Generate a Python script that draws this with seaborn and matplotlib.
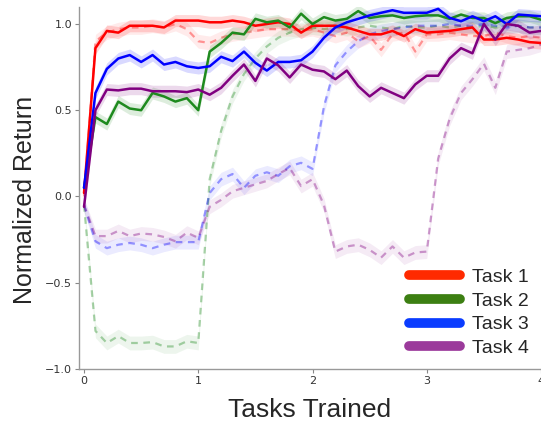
import numpy as np
import pandas as pd
import matplotlib
matplotlib.use("Agg")
import matplotlib.pyplot as plt
from matplotlib.lines import Line2D
import seaborn as sns

steps = [round(i * 0.1, 1) for i in range(41)]

red_solid = [0.02, 0.86, 0.96, 0.95, 0.99, 0.99, 0.99, 0.98, 1.02, 1.02, 1.02,
             1.01, 1.01, 1.02, 1.01, 0.99, 1.00, 1.01, 1.00, 0.95, 0.99,
             0.99, 0.99, 0.98, 0.96, 0.94, 0.94, 0.96, 0.93, 0.97, 0.95,
             0.955, 0.96, 0.97, 0.98, 0.91, 0.91, 0.92, 0.91, 0.895, 0.89]
red_dash = [0.00, 0.90, 0.95, 0.97, 0.98, 0.98, 0.99, 0.98, 1.00, 0.97, 0.90,
            0.89, 0.92, 0.94, 0.95, 0.96, 0.97, 0.97, 0.97, 0.96, 0.97,
            0.95, 0.93, 0.95, 0.90, 0.93, 0.85, 0.94, 0.95, 0.84, 0.94,
            0.94, 0.95, 0.94, 0.93, 0.93, 0.95, 0.93, 0.92, 0.93, 0.92]
green_solid = [0.05, 0.46, 0.42, 0.55, 0.51, 0.50, 0.60, 0.58, 0.55, 0.57, 0.50,
               0.84, 0.89, 0.95, 0.94, 1.03, 1.01, 1.02, 0.98, 1.06, 1.00,
               1.04, 1.02, 1.03, 1.075, 1.035, 1.045, 1.05, 1.035, 1.045, 1.05,
               1.05, 1.03, 1.055, 1.035, 1.035, 1.005, 1.035, 1.045, 1.045, 1.025]
green_dash = [-0.05, -0.78, -0.85, -0.81, -0.85, -0.85, -0.845, -0.87, -0.87, -0.84, -0.85,
              0.10, 0.38, 0.58, 0.71, 0.80, 0.87, 0.92, 0.95, 0.97, 0.98,
              0.97, 0.98, 0.97, 0.98, 0.99, 0.98, 0.97, 0.99, 0.98, 0.98,
              0.99, 0.98, 0.99, 0.98, 0.99, 0.98, 0.99, 0.99, 0.98, 0.98]
blue_solid = [0.05, 0.60, 0.74, 0.80, 0.82, 0.78, 0.82, 0.765, 0.78, 0.755, 0.745,
              0.755, 0.81, 0.785, 0.84, 0.775, 0.73, 0.78, 0.78, 0.79, 0.84,
              0.92, 0.98, 1.01, 1.03, 1.05, 1.065, 1.08, 1.065, 1.065, 1.065,
              1.088, 1.036, 1.016, 1.045, 1.016, 1.045, 1.00, 1.055, 1.05, 1.045]
blue_dash = [-0.05, -0.26, -0.30, -0.28, -0.27, -0.28, -0.30, -0.28, -0.265, -0.265, -0.265,
             0.02, 0.10, 0.13, 0.05, 0.12, 0.14, 0.12, 0.175, 0.195, 0.16,
             0.52, 0.76, 0.84, 0.90, 0.94, 0.96, 0.97, 0.98, 0.99, 0.99,
             0.99, 1.00, 0.99, 0.99, 1.00, 0.99, 0.98, 0.99, 0.98, 0.98]
purple_solid = [-0.06, 0.50, 0.62, 0.615, 0.625, 0.625, 0.61, 0.61, 0.61, 0.605, 0.62,
                0.59, 0.63, 0.70, 0.765, 0.67, 0.80, 0.76, 0.69, 0.765, 0.735,
                0.725, 0.68, 0.73, 0.64, 0.58, 0.63, 0.60, 0.57, 0.65, 0.70,
                0.70, 0.80, 0.86, 0.83, 1.00, 0.91, 1.00, 0.99, 0.95, 0.96]
purple_dash = [-0.05, -0.23, -0.23, -0.20, -0.23, -0.215, -0.22, -0.235, -0.26, -0.21, -0.24,
               -0.06, -0.02, 0.03, 0.05, 0.07, 0.09, 0.13, 0.165, 0.06, 0.10,
               -0.05, -0.32, -0.29, -0.28, -0.31, -0.355, -0.29, -0.355, -0.325, -0.32,
               0.22, 0.45, 0.60, 0.68, 0.77, 0.63, 0.84, 0.85, 0.86, 0.88]

err_solid = 0.035
err_dash = 0.04

task_labels = ["Task 1", "Task 2", "Task 3", "Task 4"]
line_colors = ["#ff0000", "#1e8a1e", "#0000ff", "#800080"]
legend_colors = ["#ff2a00", "#3c7f12", "#0a3cff", "#9b3a9b"]
solid_series = [red_solid, green_solid, blue_solid, purple_solid]
dash_series = [red_dash, green_dash, blue_dash, purple_dash]

sns.set_theme(style="ticks")
plt.rcParams["font.family"] = ["DejaVu Sans"]

fig = plt.figure(figsize=(5.41, 4.23), dpi=100)
ax = fig.add_axes([0.146, 0.128, 0.854, 0.856])

xs = np.array(steps)
for vals, col in zip(dash_series, line_colors):
    v = np.array(vals)
    ax.fill_between(xs, v - err_dash, v + err_dash, color=col, alpha=0.08, lw=0, zorder=1)
    sns.lineplot(x=xs, y=v, color=col, alpha=0.38, lw=1.6, linestyle=(0, (3, 2.5)),
                 ax=ax, zorder=2)
for vals, col in zip(solid_series, line_colors):
    v = np.array(vals)
    ax.fill_between(xs, v - err_solid, v + err_solid, color=col, alpha=0.15, lw=0, zorder=3)
    sns.lineplot(x=xs, y=v, color=col, lw=1.8, ax=ax, zorder=4)

ax.set_xlim(-0.044, 4.0)
ax.set_ylim(-1.0, 1.1)
ax.set_xticks([0, 1, 2, 3, 4])
ax.set_xticklabels(["0", "1", "2", "3", "4"])
ax.set_yticks([-1.0, -0.5, 0.0, 0.5, 1.0])
ax.set_yticklabels(["\u22121.0", "\u22120.5", "0.0", "0.5", "1.0"])
ax.tick_params(axis="both", labelsize=8, colors="#333333", length=3, width=0.8,
               color="#888888", pad=2)
for s in ["top", "right"]:
    ax.spines[s].set_visible(False)
for s in ["left", "bottom"]:
    ax.spines[s].set_color("#999999")
    ax.spines[s].set_linewidth(1.0)

ax.set_xlabel("Tasks Trained", fontsize=19, family="Liberation Sans", labelpad=9)
ax.set_ylabel("Normalized Return", fontsize=18, family="Liberation Sans")
ax.yaxis.set_label_coords(-0.091, 0.467)

handles = [Line2D([0], [0], color=c, lw=7, solid_capstyle="round") for c in legend_colors]
ax.legend(handles, task_labels, loc="lower right", bbox_to_anchor=(1.0, 0.0),
          frameon=False, prop={"family": "Liberation Sans", "size": 14},
          handlelength=2.6, handletextpad=0.65, labelspacing=0.32, borderpad=0.1)

fig.savefig("out.png", dpi=100)
